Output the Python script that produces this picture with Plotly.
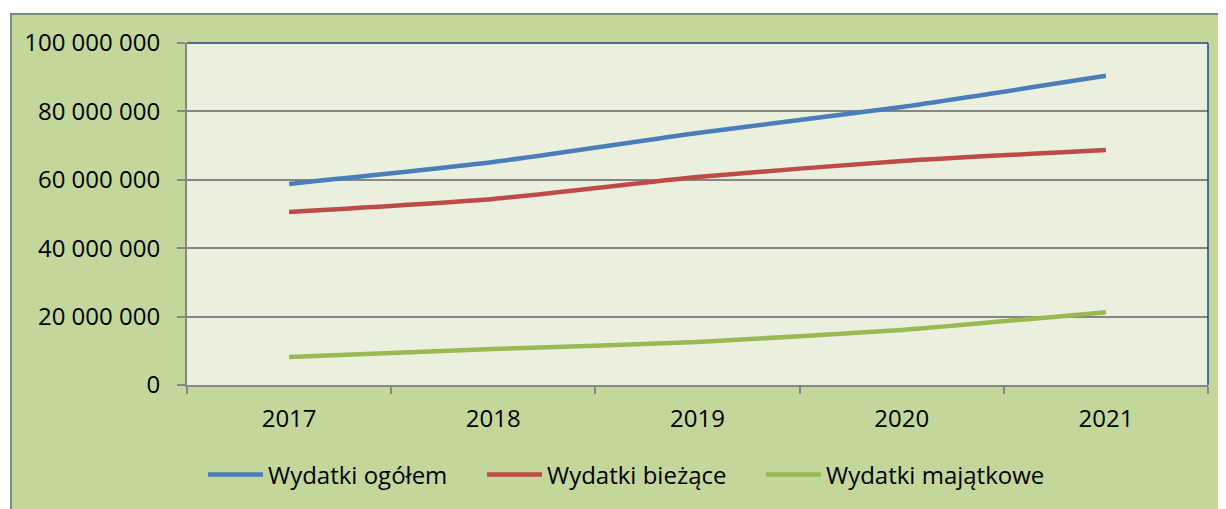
import plotly.graph_objects as go

# Data
years = ["2017", "2018", "2019", "2020", "2021"]
wydatki_ogolem = [58_800_000, 65_200_000, 73_700_000, 81_300_000, 90_400_000]
wydatki_biezace = [50_600_000, 54_400_000, 60_800_000, 65_500_000, 68_700_000]
wydatki_majatkowe = [8_200_000, 10_500_000, 12_600_000, 16_100_000, 21_300_000]

series = [
    ("Wydatki ogółem", wydatki_ogolem, "#4a7ebb"),
    ("Wydatki bieżące", wydatki_biezace, "#be4b48"),
    ("Wydatki majątkowe", wydatki_majatkowe, "#98b954"),
]

FONT = "Open Sans"
FSIZE = 24
W, H = 1226, 509
OFF = 7  # page body margin
L, R, T, B = 186 - OFF, 19 + OFF, 42 - OFF, 125 + OFF
pw, ph = W - L - R, H - T - B


def px_x(x):
    return (x - OFF - L) / pw


def px_y(y):
    return (H - B - (y - OFF)) / ph


legend_ids = ["legend", "legend2", "legend3"]
legend_left = [202, 481, 760]  # where each legend entry starts

fig = go.Figure()
for (name, values, color), lid in zip(series, legend_ids):
    fig.add_trace(
        go.Scatter(
            x=years,
            y=values,
            name=name,
            mode="lines",
            legend=lid,
            line=dict(color=color, width=4.5, shape="spline", smoothing=0.6),
        )
    )

# outer green frame
fig.add_shape(
    type="rect",
    xref="paper",
    yref="paper",
    x0=px_x(10),
    x1=px_x(1250),
    y0=px_y(540),
    y1=px_y(13),
    fillcolor="#c4d79b",
    line=dict(color="#72907e", width=2),
    layer="below",
)
# plot area background (drawn over the frame, under the grid)
fig.add_shape(
    type="rect",
    xref="paper",
    yref="paper",
    x0=0, x1=1, y0=0, y1=1,
    fillcolor="#ebf0de",
    line=dict(width=0),
    layer="below",
)

# dark blue top / right border of plot area
fig.add_shape(
    type="line", xref="paper", yref="paper",
    x0=0, x1=1, y0=1, y1=1,
    line=dict(color="#1f497d", width=1.5),
)
fig.add_shape(
    type="line", xref="paper", yref="paper",
    x0=1, x1=1, y0=0, y1=1,
    line=dict(color="#1f497d", width=1.5),
)

legends = {}
for lid, left in zip(legend_ids, legend_left):
    legends[lid] = dict(
        orientation="h",
        x=px_x(left),
        xanchor="left",
        y=px_y(474),
        yanchor="middle",
        bgcolor="rgba(0,0,0,0)",
        font=dict(family=FONT, size=FSIZE),
        itemwidth=55,
    )

fig.update_layout(
    width=W,
    height=H,
    margin=dict(l=L, r=R, t=T, b=B, autoexpand=False),
    paper_bgcolor="white",
    plot_bgcolor="#ebf0de",
    separators=". ",
    font=dict(family=FONT, size=FSIZE, color="#000000"),
    showlegend=True,
    **legends,
    xaxis=dict(
        type="category",
        range=[-0.5, 4.5],
        automargin=False,
        showgrid=False,
        showline=True,
        linecolor="#868686",
        linewidth=2,
        ticks="outside",
        tickson="boundaries",
        ticklen=7,
        tickwidth=2,
        tickcolor="#868686",
        ticklabelstandoff=11,
        zeroline=False,
    ),
    yaxis=dict(
        range=[0, 100_000_000],
        dtick=20_000_000,
        tickformat=",d",
        automargin=False,
        showgrid=True,
        gridcolor="#868686",
        gridwidth=1.5,
        showline=True,
        linecolor="#868686",
        linewidth=2,
        ticks="outside",
        ticklen=8,
        tickwidth=2,
        tickcolor="#868686",
        ticklabelstandoff=12,
        zeroline=False,
    ),
)

fig.write_html("out.html")
